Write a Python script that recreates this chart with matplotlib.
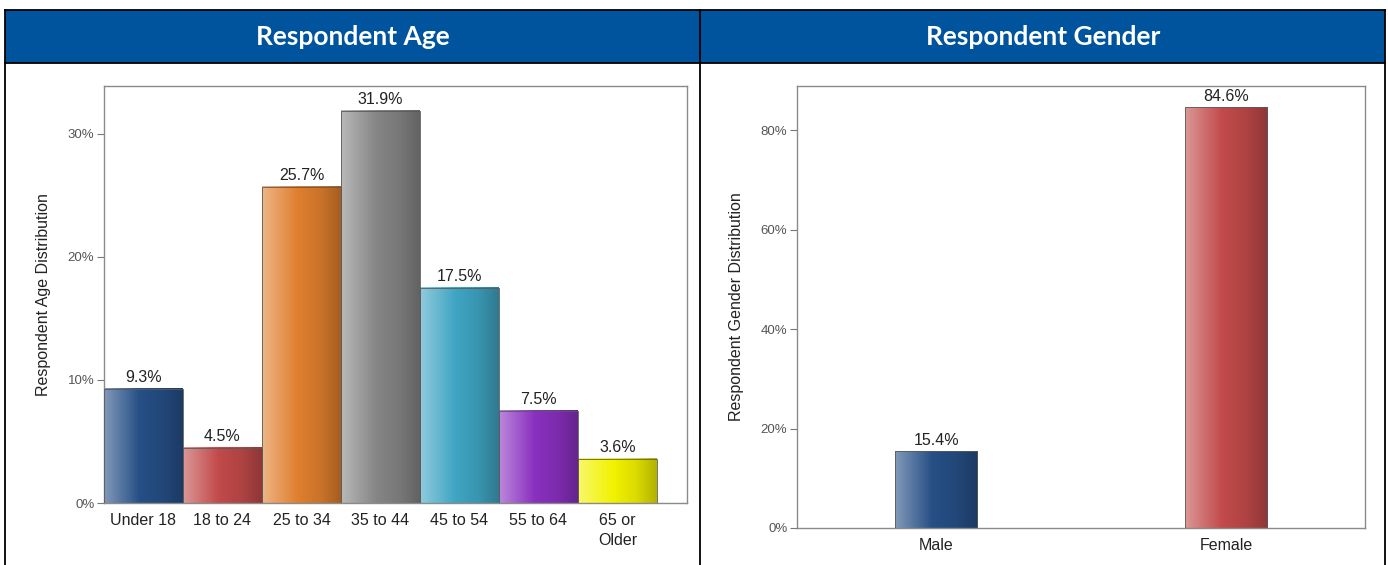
import numpy as np
import matplotlib
matplotlib.use("Agg")
import matplotlib.pyplot as plt
from matplotlib.colors import to_rgb
from matplotlib.patches import Rectangle
from matplotlib.ticker import FuncFormatter

W, H = 1388, 565

# ---- data ----
age_categories = ["Under 18", "18 to 24", "25 to 34", "35 to 44", "45 to 54", "55 to 64", "65 or\nOlder"]
age_values = [9.3, 4.5, 25.7, 31.9, 17.5, 7.5, 3.6]
age_colors = ["#264F86", "#C24A4A", "#E07F2E", "#858585", "#3FA5C3", "#8A30C0", "#F2F200"]
age_yticks = [0, 10, 20, 30]

gender_categories = ["Male", "Female"]
gender_values = [15.4, 84.6]
gender_colors = ["#264F86", "#C24A4A"]
gender_yticks = [0, 20, 40, 60, 80]

panel_titles = ["Respondent Age", "Respondent Gender"]
ylabels = ["Respondent Age Distribution", "Respondent Gender Distribution"]

plt.rcParams['font.family'] = ['Liberation Sans', 'DejaVu Sans']

fig = plt.figure(figsize=(W / 100, H / 100), dpi=100)

# background frame axes in pixel coords
bg = fig.add_axes([0, 0, 1, 1])
bg.set_xlim(0, W)
bg.set_ylim(H, 0)
bg.axis('off')
bg.add_patch(Rectangle((5, 10), 1380, 53, facecolor="#00549E", edgecolor='none'))
lc = "#000000"
bg.plot([5, 1385], [10, 10], color=lc, lw=1.3)
bg.plot([5, 1385], [63, 63], color=lc, lw=1.3)
for xv in (5, 700, 1385):
    bg.plot([xv, xv], [10, H], color=lc, lw=1.3)
bg.text(353, 37, panel_titles[0], color='white', fontsize=19, fontweight='bold',
        family=['Lato', 'DejaVu Sans'], ha='center', va='center')
bg.text(1043, 37, panel_titles[1], color='white', fontsize=19, fontweight='bold',
        family=['Lato', 'DejaVu Sans'], ha='center', va='center')


def gradient_colors(base, n=64):
    b = np.array(to_rgb(base))
    w = np.ones(3)
    stops_t = [0.0, 0.18, 0.45, 0.75, 1.0]
    stops_c = [b + (w - b) * 0.42, b + (w - b) * 0.25, b, b * 0.9, b * 0.74]
    t = np.linspace(0, 1, n)
    out = np.zeros((n, 3))
    for k in range(3):
        out[:, k] = np.interp(t, stops_t, [c[k] for c in stops_c])
    return np.clip(out, 0, 1)


def add_axes_px(x0, y0, x1, y1):
    return fig.add_axes([x0 / W, 1 - y1 / H, (x1 - x0) / W, (y1 - y0) / H])


def draw_panel(ax, cats, vals, cols, width, xlim, ylim, yticks, ylabel, label_pad):
    ax.set_xlim(*xlim)
    ax.set_ylim(*ylim)
    for i, (v, c) in enumerate(zip(vals, cols)):
        g = gradient_colors(c)[None, :, :]
        ax.imshow(g, extent=[i - width / 2, i + width / 2, 0, v], aspect='auto',
                  interpolation='bilinear', zorder=2)
        ax.add_patch(Rectangle((i - width / 2, 0), width, v, facecolor='none',
                               edgecolor='#5a5a5a', lw=0.6, zorder=3))
        ax.annotate(f"{v}%", (i, v), xytext=(0, 2.5), textcoords='offset points',
                    ha='center', va='bottom', fontsize=11.5, color='#222222')
    ax.set_xlim(*xlim)
    ax.set_ylim(*ylim)
    ax.set_xticks(range(len(cats)))
    labels = ax.set_xticklabels(cats, fontsize=11.5, color='#222222')
    for lab in labels:
        lab.set_linespacing(1.45)
    ax.tick_params(axis='x', length=0, pad=7)
    ax.set_yticks(yticks)
    ax.yaxis.set_major_formatter(FuncFormatter(lambda v, p: f"{v:.0f}%"))
    ax.tick_params(axis='y', length=5, width=0.8, color='#777777', labelsize=9.5,
                   labelcolor='#555555', pad=2)
    for s in ax.spines.values():
        s.set_color('#8a8a8a')
        s.set_linewidth(1.0)
    ax.set_ylabel(ylabel, fontsize=11.5, color='#222222', labelpad=label_pad)


ax1 = add_axes_px(104, 86, 687, 503)
draw_panel(ax1, age_categories, age_values, age_colors, 1.0,
           (-0.5, 6.88), (0, 33.9), age_yticks, ylabels[0], 12)

ax2 = add_axes_px(797, 86, 1365, 528)
draw_panel(ax2, gender_categories, gender_values, gender_colors, 0.283,
           (-0.48, 1.48), (0, 88.9), gender_yticks, ylabels[1], 12)

fig.savefig("out.png", dpi=100)
